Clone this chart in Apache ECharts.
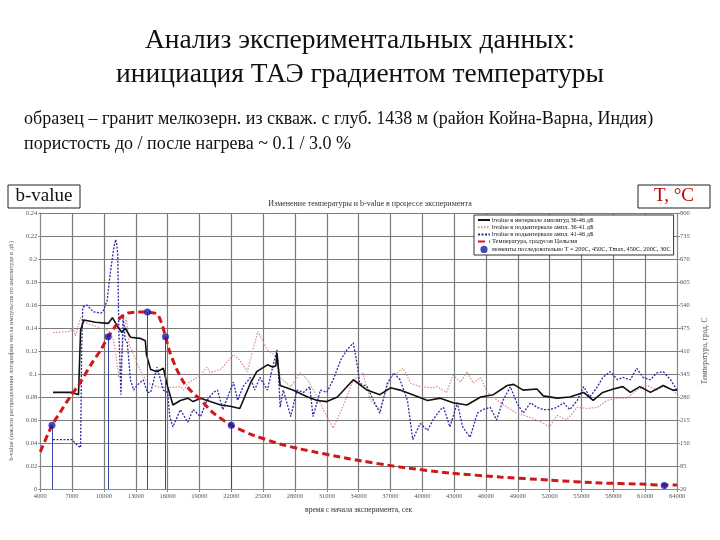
<!DOCTYPE html>
<html>
<head>
<meta charset="utf-8">
<script src="https://cdn.jsdelivr.net/npm/echarts@6/dist/echarts.min.js"></script>
<style>
  html, body { margin: 0; padding: 0; background: #fff; }
  #chart { width: 720px; height: 540px; }
</style>
</head>
<body>
<div id="chart"></div>
<script>
  // время, сек / b-value (36-46 дБ)
  const tBlack = [5200, 7000, 7600, 7800, 8100, 9200, 10400, 10800, 11300, 11700, 12000, 12500, 13400, 13900, 14000, 14400, 15000, 15600, 16000, 16500, 17200, 17900, 18400, 19100, 21000, 21900, 22800, 23800, 24400, 25400, 25900, 26200, 26300, 26600, 27800, 29200, 30100, 31000, 32000, 33500, 34800, 36000, 37000, 37900, 39100, 40500, 41700, 42900, 44200, 45500, 46700, 48000, 48600, 49500, 50800, 51400, 52700, 53900, 55200, 56100, 57000, 58000, 58900, 59600, 60500, 61500, 62700, 63600, 64000]
  const bBlack = [0.084, 0.084, 0.082, 0.138, 0.147, 0.145, 0.144, 0.149, 0.141, 0.136, 0.140, 0.132, 0.131, 0.129, 0.117, 0.104, 0.102, 0.105, 0.089, 0.073, 0.077, 0.079, 0.076, 0.079, 0.073, 0.072, 0.070, 0.092, 0.102, 0.108, 0.106, 0.107, 0.118, 0.090, 0.086, 0.080, 0.077, 0.076, 0.080, 0.095, 0.086, 0.082, 0.088, 0.086, 0.082, 0.077, 0.079, 0.075, 0.073, 0.080, 0.082, 0.090, 0.091, 0.086, 0.087, 0.081, 0.079, 0.080, 0.084, 0.077, 0.084, 0.087, 0.089, 0.084, 0.089, 0.084, 0.090, 0.086, 0.086]

  // b-value (36-41 дБ)
  const tRed = [5200, 6800, 7100, 7300, 7800, 8200, 8700, 9700, 10400, 10900, 11200, 11400, 11600, 11900, 12100, 12400, 13000, 13500, 14100, 15000, 16000, 17200, 17500, 17900, 19100, 19700, 20000, 21000, 22200, 22800, 23500, 24500, 25400, 26300, 26600, 27600, 28500, 29200, 30100, 31000, 31600, 32500, 33500, 34400, 35100, 36000, 37000, 38200, 38900, 39800, 41000, 41400, 42300, 42900, 43600, 44200, 44800, 45500, 46100, 47100, 48000, 48900, 49900, 50800, 52000, 52700, 53600, 54600, 55500, 56500, 57400, 58400, 59300, 60200, 61200, 62100, 62700, 63600, 64000]
  const bRed = [0.136, 0.137, 0.140, 0.133, 0.149, 0.145, 0.143, 0.140, 0.138, 0.130, 0.112, 0.097, 0.108, 0.138, 0.149, 0.125, 0.112, 0.102, 0.092, 0.089, 0.088, 0.089, 0.086, 0.092, 0.099, 0.106, 0.101, 0.104, 0.117, 0.112, 0.102, 0.137, 0.121, 0.115, 0.097, 0.089, 0.101, 0.095, 0.080, 0.063, 0.053, 0.071, 0.095, 0.101, 0.077, 0.069, 0.097, 0.105, 0.092, 0.089, 0.088, 0.089, 0.084, 0.099, 0.093, 0.102, 0.092, 0.097, 0.084, 0.077, 0.071, 0.066, 0.063, 0.060, 0.054, 0.064, 0.060, 0.071, 0.070, 0.071, 0.077, 0.079, 0.079, 0.086, 0.090, 0.086, 0.089, 0.086, 0.082]

  // b-value (41-46 дБ)
  const tBlue = [5200, 7000, 7500, 7800, 7900, 8000, 8400, 9000, 9700, 9900, 10300, 10600, 10900, 11100, 11200, 11300, 11400, 11500, 11600, 11800, 12000, 12200, 12500, 12800, 13100, 13700, 14100, 14400, 15000, 15600, 16000, 16200, 16500, 17200, 17900, 18400, 19100, 19700, 20300, 20700, 21200, 22200, 22600, 23100, 23800, 24200, 24700, 25400, 25900, 26300, 26400, 26600, 26900, 27600, 28200, 28800, 29400, 29700, 30400, 31000, 31600, 32300, 32900, 33500, 33900, 34100, 34800, 35400, 36000, 36700, 37300, 37900, 38600, 39100, 39800, 40500, 41000, 41700, 42000, 42600, 43300, 43800, 44500, 45200, 45700, 46400, 47000, 47600, 48300, 48900, 49500, 50200, 50800, 51400, 52000, 52700, 53300, 53900, 54600, 55200, 55800, 56500, 57000, 57700, 58400, 58900, 59600, 60200, 60800, 61500, 62100, 62700, 63400, 64000]
  const bBlue = [0.043, 0.043, 0.038, 0.036, 0.121, 0.158, 0.160, 0.154, 0.153, 0.154, 0.164, 0.188, 0.208, 0.217, 0.213, 0.204, 0.138, 0.112, 0.082, 0.150, 0.130, 0.127, 0.095, 0.086, 0.090, 0.095, 0.084, 0.084, 0.106, 0.086, 0.084, 0.063, 0.054, 0.069, 0.058, 0.069, 0.063, 0.077, 0.084, 0.086, 0.069, 0.093, 0.077, 0.089, 0.097, 0.086, 0.097, 0.086, 0.106, 0.121, 0.110, 0.071, 0.086, 0.063, 0.086, 0.084, 0.089, 0.063, 0.086, 0.084, 0.095, 0.112, 0.121, 0.127, 0.106, 0.092, 0.089, 0.077, 0.066, 0.092, 0.101, 0.095, 0.077, 0.043, 0.057, 0.051, 0.060, 0.069, 0.071, 0.054, 0.075, 0.054, 0.045, 0.066, 0.069, 0.071, 0.060, 0.077, 0.089, 0.075, 0.066, 0.075, 0.071, 0.069, 0.069, 0.071, 0.075, 0.069, 0.077, 0.089, 0.080, 0.089, 0.097, 0.102, 0.095, 0.097, 0.095, 0.105, 0.097, 0.095, 0.101, 0.102, 0.095, 0.086]

  // температура, °C
  const tTemp = [4000, 5100, 5900, 6800, 7800, 8700, 9700, 10400, 11100, 11500, 12200, 13000, 14100, 14800, 15100, 15500, 15800, 16200, 16800, 17500, 18300, 19100, 20300, 22000, 23800, 26600, 28500, 33200, 37900, 42600, 47300, 52000, 56800, 60500, 62800, 64000]
  const temp = [125, 200, 238, 280, 322, 368, 413, 450, 481, 503, 517, 520, 520, 517, 512, 483, 450, 407, 362, 322, 294, 272, 235, 200, 175, 147, 133, 105, 82, 65, 54, 45, 37, 34, 31, 31]

  // моменты Т = 200, 450, Tmax, 450, 200, 30
  const tMoments = [5100, 10400, 14100, 15800, 22000, 62800]
  const tempMoments = [200, 450, 520, 450, 200, 30]

  const zip = (a, b) => a.map((v, i) => [v, b[i]])

  const names = [
    'bvalue в интервале амплитуд 36-46 дБ',
    'bvalue в подынтервале ампл. 36-41 дБ',
    'bvalue в подынтервале ампл. 41-46 дБ',
    'Температура, градусов Цельсия',
    'моменты последовательно Т = 200С, 450С, Tmax, 450С, 200С, 30С'
  ]

  const serif = 'Liberation Serif'
  const axisText = { fontFamily: serif, fontSize: 6.5, color: '#555' }
  const gridLine = { show: true, lineStyle: { color: '#7a7a7a', width: 1.2 } }
  const noSymbol = { opacity: 0 }

  const chart = echarts.init(document.getElementById('chart'))
  chart.setOption({
    backgroundColor: '#fff',
    animation: false,
    title: [{
      text: 'Анализ экспериментальных данных:\nинициация ТАЭ градиентом температуры',
      left: 'center',
      top: 19,
      textStyle: { fontFamily: serif, fontSize: 27.5, fontWeight: 'normal', color: '#111', lineHeight: 34, align: 'center' }
    }, {
      text: 'образец – гранит мелкозерн. из скваж. с глуб. 1438 м (район Койна-Варна, Индия)\nпористость до / после нагрева ~ 0.1 / 3.0 %',
      left: 19,
      top: 102,
      textStyle: { fontFamily: serif, fontSize: 18, fontWeight: 'normal', color: '#111', lineHeight: 25 }
    }, {
      text: 'Изменение температуры и b-value в процессе эксперимента',
      left: 365,
      top: 195,
      textAlign: 'center',
      textStyle: { fontFamily: serif, fontSize: 8, fontWeight: 'normal', color: '#333' }
    }],
    graphic: [
      { type: 'rect', shape: { x: 8, y: 185, width: 72, height: 23 }, style: { fill: '#fff', stroke: '#222', lineWidth: 1 } },
      { type: 'text', x: 44, y: 196.5, style: { text: 'b-value', font: '19px "Liberation Serif"', fill: '#111', align: 'center', verticalAlign: 'middle' } },
      { type: 'rect', shape: { x: 638, y: 185, width: 72, height: 23 }, style: { fill: '#fff', stroke: '#222', lineWidth: 1 } },
      { type: 'text', x: 674, y: 196.5, style: { text: 'T, °C', font: '19px "Liberation Serif"', fill: '#c00000', align: 'center', verticalAlign: 'middle' } }
    ],
    legend: {
      orient: 'vertical',
      left: 474,
      top: 215,
      padding: [2, 3],
      itemGap: 1.2,
      itemWidth: 12,
      itemHeight: 7,
      backgroundColor: '#fff',
      borderColor: '#333',
      borderWidth: 1,
      borderRadius: 0,
      textStyle: { fontFamily: serif, fontSize: 6.3, color: '#111', padding: [0, 0, 0, -3] },
      data: [
        { name: names[0], itemStyle: noSymbol },
        { name: names[1], itemStyle: noSymbol },
        { name: names[2], itemStyle: noSymbol },
        { name: names[3], itemStyle: noSymbol },
        { name: names[4], icon: 'pin' }
      ]
    },
    grid: { left: 40, right: 43, top: 213, bottom: 51 },
    xAxis: {
      type: 'value',
      min: 4000,
      max: 64000,
      interval: 3000,
      name: 'время с начала эксперимента, сек',
      nameLocation: 'middle',
      nameGap: 17,
      nameTextStyle: { fontFamily: serif, fontSize: 7.5, color: '#333' },
      axisLine: { lineStyle: { color: '#888' } },
      axisTick: { length: 3, lineStyle: { color: '#888' } },
      axisLabel: Object.assign({ margin: 4, formatter: v => String(v) }, axisText),
      splitLine: gridLine
    },
    yAxis: [{
      type: 'value',
      min: 0,
      max: 0.24,
      interval: 0.02,
      name: 'b-value (наклон распределения логарифма числа импульсов по амплитуде в дБ)',
      nameLocation: 'middle',
      nameGap: 20,
      nameTextStyle: { fontFamily: serif, fontSize: 6.5, color: '#555' },
      axisLine: { show: true, lineStyle: { color: '#888' } },
      axisTick: { show: true, length: 2, lineStyle: { color: '#888' } },
      axisLabel: Object.assign({ margin: 3, formatter: v => String(+v.toFixed(2)) }, axisText),
      splitLine: gridLine
    }, {
      type: 'value',
      min: 20,
      max: 800,
      interval: 65,
      name: 'Температура, град. С',
      nameLocation: 'middle',
      nameGap: 22,
      nameRotate: 90,
      nameTextStyle: { fontFamily: serif, fontSize: 7.5, color: '#555' },
      axisLine: { show: true, lineStyle: { color: '#888' } },
      axisTick: { show: true, length: 3, lineStyle: { color: '#888' } },
      axisLabel: Object.assign({ margin: 3 }, axisText),
      splitLine: { show: false }
    }],
    series: [{
      name: names[0],
      type: 'line',
      symbol: 'none',
      data: zip(tBlack, bBlack),
      lineStyle: { color: '#111', width: 1.6 },
      itemStyle: { color: '#111' },
      z: 4
    }, {
      name: names[1],
      type: 'line',
      symbol: 'none',
      data: zip(tRed, bRed),
      lineStyle: { color: '#d98a8a', width: 1.2, type: [1.5, 1.5] },
      itemStyle: { color: '#d98a8a' },
      z: 2
    }, {
      name: names[2],
      type: 'line',
      symbol: 'none',
      data: zip(tBlue, bBlue),
      lineStyle: { color: '#2a2aa8', width: 1.3, type: [2, 1.5] },
      itemStyle: { color: '#2a2aa8' },
      z: 3
    }, {
      name: names[3],
      type: 'line',
      yAxisIndex: 1,
      symbol: 'none',
      smooth: 0.2,
      data: zip(tTemp, temp),
      lineStyle: { color: '#d01818', width: 3, type: [7, 4] },
      itemStyle: { color: '#d01818' },
      z: 5
    }, {
      name: names[4],
      type: 'scatter',
      yAxisIndex: 1,
      symbolSize: 7,
      data: zip(tMoments, tempMoments),
      itemStyle: { color: '#1a1aa8' },
      z: 6,
      markLine: {
        silent: true,
        symbol: 'none',
        label: { show: false },
        lineStyle: { color: '#3a46a8', width: 1, type: 'solid' },
        data: tMoments.map((t, i) => [{ coord: [t, tempMoments[i]] }, { coord: [t, 20] }])
      }
    }]
  })
</script>
</body>
</html>
